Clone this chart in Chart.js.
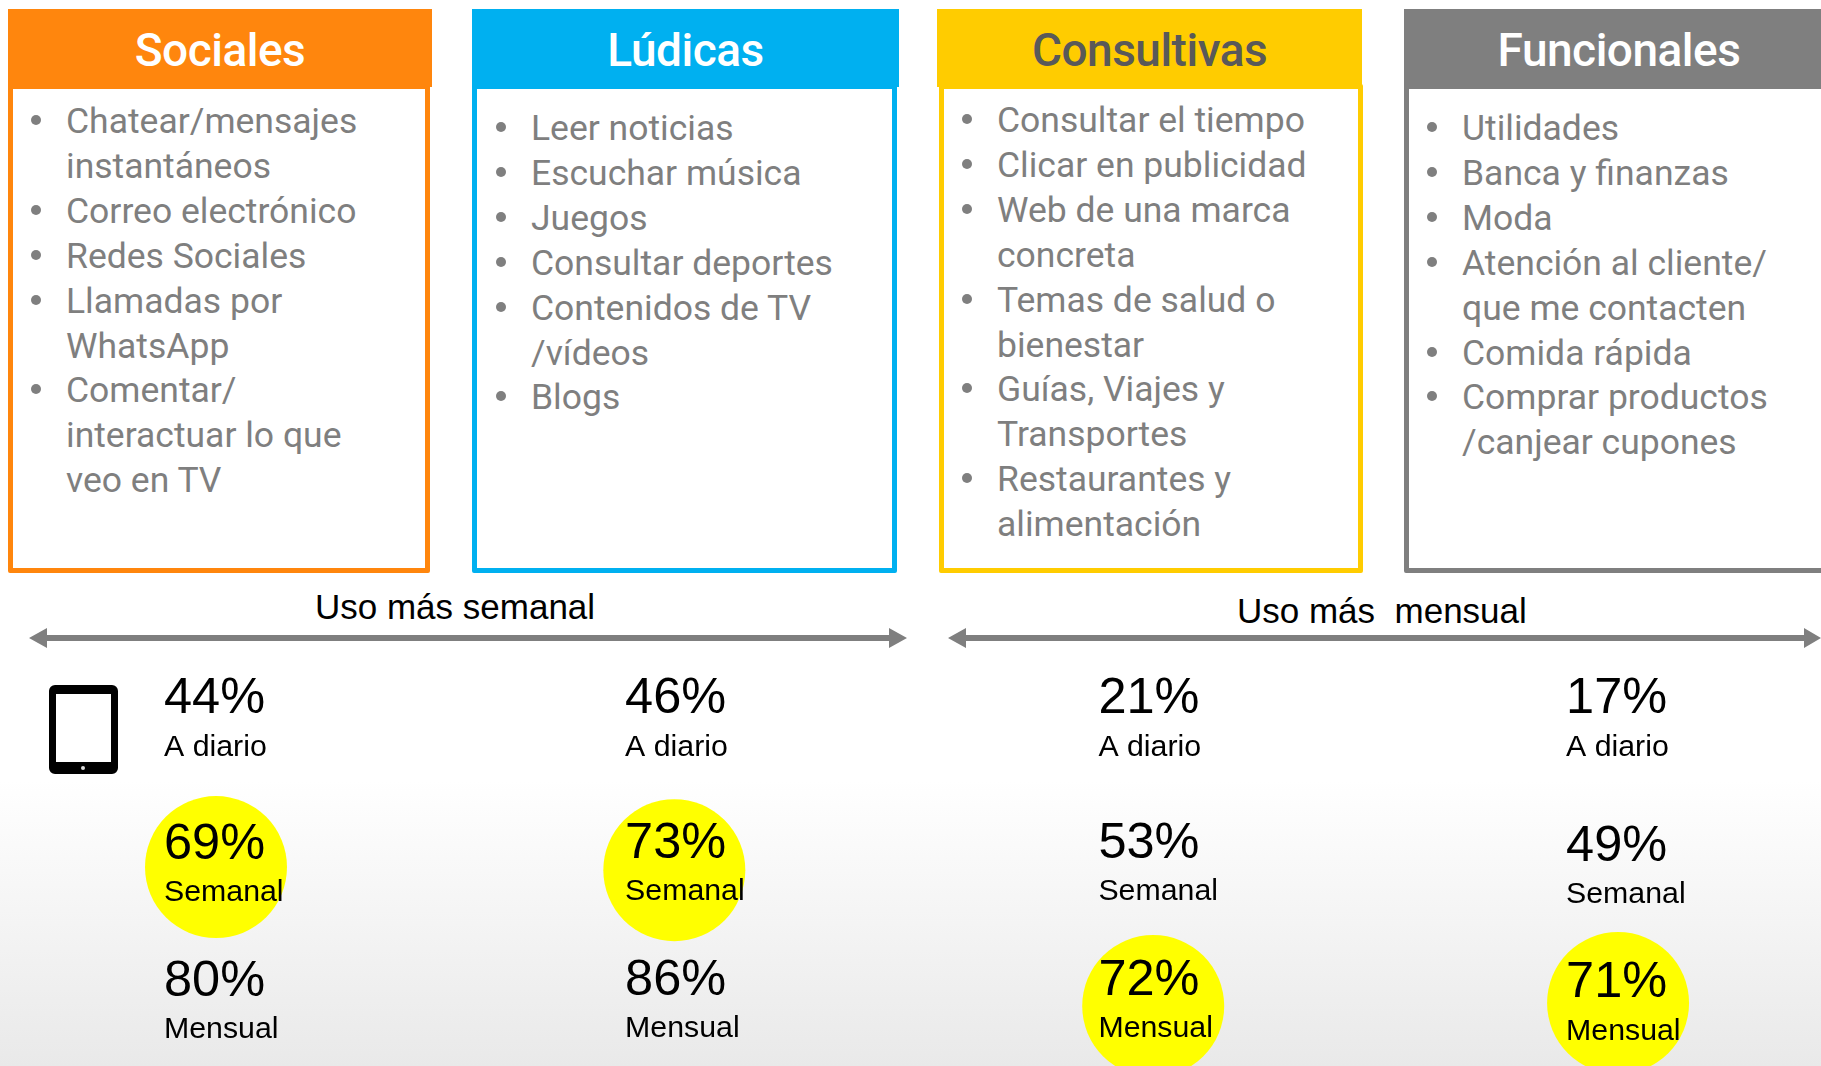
<!DOCTYPE html>
<html lang="es">
<head>
<meta charset="utf-8">
<title>Usos de la tablet</title>
<script src="https://cdn.jsdelivr.net/npm/chart.js@4"></script>
<style>
  html, body { margin: 0; width: 1821px; height: 1066px; overflow: hidden; }
  body {
    position: relative;
    background: linear-gradient(#fff 0, #fff 780px, #e9e9e9 1066px);
    font-family: "Liberation Sans", Arial, sans-serif;
  }
  .head {
    position: absolute; height: 78px; text-align: center;
    font: 500 46px/83px Roboto, sans-serif; letter-spacing: -0.5px;
  }
  .box {
    position: absolute; top: 84px; height: 479px; background: #fff;
    border: 5px solid; border-radius: 2px;
  }
  .box ul { margin: 0; padding: 0; list-style: none; }
  .box li {
    position: relative; white-space: pre-line;
    font: 400 35.5px/44.9px Roboto, sans-serif; color: #7f7f7f;
  }
  .box li::before {
    content: ""; position: absolute; left: -35px; top: 16px;
    width: 10px; height: 10px; border-radius: 50%; background: #7f7f7f;
  }
  .usage { position: absolute; font-size: 35px; line-height: 40px; color: #000; white-space: pre; }
  .arrow { position: absolute; top: 628px; height: 20px; }
  #tablet {
    position: absolute; left: 49px; top: 685px; width: 55px; height: 68px;
    border: 7px solid #000; border-bottom-width: 12px; border-top-width: 9px;
    border-radius: 6px; background: #fff;
  }
  #tablet::after {
    content: ""; position: absolute; left: 25px; bottom: -8px;
    width: 4px; height: 4px; border-radius: 50%; background: #ddd;
  }
  #usoChart { position: absolute; left: 0; top: 650px; }
</style>
</head>
<body>
<div id="cards"></div>
<div class="usage" style="left:315px;top:587px">Uso más semanal</div>
<div class="usage" style="left:1237px;top:591px">Uso más  mensual</div>
<svg class="arrow" style="left:29px" width="878" height="20"><path d="M0 10L18 0V7H860V0L878 10L860 20V13H18V20Z" fill="#7f7f7f"/></svg>
<svg class="arrow" style="left:948px" width="880" height="20"><path d="M0 10L18 0V7H856V0L873 10L856 20V13H18V20Z" fill="#7f7f7f"/></svg>
<div id="tablet"></div>
<canvas id="usoChart" width="1821" height="416"></canvas>

<script>
const categories = ['Sociales', 'Lúdicas', 'Consultivas', 'Funcionales'];
const frequencies = ['A diario', 'Semanal', 'Mensual'];

const aDiario = [44, 46, 21, 17];
const semanal = [69, 73, 53, 49];
const mensual = [80, 86, 72, 71];
// which frequency gets the yellow circle in each column
const highlighted = ['Semanal', 'Semanal', 'Mensual', 'Mensual'];

const itemsSociales = ['Chatear/mensajes\ninstantáneos', 'Correo electrónico', 'Redes Sociales', 'Llamadas por\nWhatsApp', 'Comentar/\ninteractuar lo que\nveo en TV'];
const itemsLudicas = ['Leer noticias', 'Escuchar música', 'Juegos', 'Consultar deportes', 'Contenidos de TV\n/vídeos', 'Blogs'];
const itemsConsultivas = ['Consultar el tiempo', 'Clicar en publicidad', 'Web de una marca\nconcreta', 'Temas de salud o\nbienestar', 'Guías, Viajes y\nTransportes', 'Restaurantes y\nalimentación'];
const itemsFuncionales = ['Utilidades', 'Banca y finanzas', 'Moda', 'Atención al cliente/\nque me contacten', 'Comida rápida', 'Comprar productos\n/canjear cupones'];

// card layout, kept apart from the data
const cardStyle = [
  { color: '#ff860d', text: '#fff', headX: 8, headW: 424, boxX: 8, boxW: 412, textX: 66, textY: 99, items: itemsSociales },
  { color: '#00b0f0', text: '#fff', headX: 472, headW: 427, boxX: 472, boxW: 415, textX: 531, textY: 106, items: itemsLudicas },
  { color: '#ffcc00', text: '#595959', headX: 937, headW: 425, boxX: 939, boxW: 414, textX: 997, textY: 98, items: itemsConsultivas },
  { color: '#7f7f7f', text: '#fff', headX: 1404, headW: 430, boxX: 1404, boxW: 430, textX: 1462, textY: 106, items: itemsFuncionales }
];

const cards = document.getElementById('cards');
categories.forEach((name, i) => {
  const s = cardStyle[i];
  const box = document.createElement('div');
  box.className = 'box';
  box.style.cssText = `left:${s.boxX}px;width:${s.boxW}px;border-color:${s.color}`;
  const ul = document.createElement('ul');
  ul.style.cssText = `position:absolute;left:${s.textX - s.boxX - 5}px;top:${s.textY - 89}px`;
  s.items.forEach(t => {
    const li = document.createElement('li');
    li.textContent = t;
    ul.appendChild(li);
  });
  box.appendChild(ul);
  cards.appendChild(box);

  const head = document.createElement('div');
  head.className = 'head';
  head.style.cssText = `left:${s.headX}px;width:${Math.min(s.headW, 1821 - s.headX + 14)}px;top:9px;background:${s.color};color:${s.text}`;
  head.textContent = name;
  cards.appendChild(head);
});

// column and row placement on the hidden axes (0..3 and 0..2)
const columnAt = [0, 0.986, 1.998, 2.998];
const rowAt = [
  [0.01, 1.032, 1.994],
  [0.01, 1.024, 1.984],
  [0.01, 1.024, 1.984],
  [0.01, 1.044, 2.004]
];
const circleColumnAt = [0, 0.98, 2.004, 2.998];
const circleRowAt = [1.018, 1.04, 1.993, 1.972];

const seriesByFrequency = [aDiario, semanal, mensual];

const cellPoints = [];
categories.forEach((c, col) => {
  frequencies.forEach((f, row) => {
    cellPoints.push({ x: columnAt[col], y: rowAt[col][row], pct: seriesByFrequency[row][col], label: f });
  });
});

const circlePoints = categories.map((c, col) => ({
  x: circleColumnAt[col],
  y: circleRowAt[col],
  frequency: highlighted[col]
}));

// prints the percentage and its frequency next to each point
const cellText = {
  id: 'cellText',
  afterDatasetsDraw(chart) {
    const ctx = chart.ctx;
    const pts = chart.getDatasetMeta(1).data;
    ctx.save();
    ctx.fillStyle = '#000';
    ctx.textAlign = 'left';
    ctx.textBaseline = 'middle';
    pts.forEach((p, i) => {
      const d = cellPoints[i];
      ctx.font = '50.5px "Liberation Sans"';
      ctx.fillText(d.pct + '%', p.x - 52, p.y - 24);
      ctx.font = '30.3px "Liberation Sans"';
      ctx.fillText(d.label, p.x - 52, p.y + 24);
    });
    ctx.restore();
  }
};

new Chart(document.getElementById('usoChart').getContext('2d'), {
  type: 'scatter',
  data: {
    datasets: [
      { label: 'Frecuencia destacada', data: circlePoints, pointRadius: 71, pointHoverRadius: 71, pointBackgroundColor: '#ffff00', pointBorderWidth: 0, clip: false },
      { label: 'Uso', data: cellPoints, pointRadius: 0, clip: false }
    ]
  },
  options: {
    responsive: false,
    animation: false,
    // the big circles would otherwise push the plot area in
    layout: { autoPadding: false, padding: { left: 216, right: 202, top: 72, bottom: 59 } },
    scales: {
      x: { type: 'linear', min: 0, max: 3, display: false },
      y: { type: 'linear', min: 0, max: 2, reverse: true, display: false }
    },
    plugins: {
      legend: { display: false },
      tooltip: { enabled: false }
    }
  },
  plugins: [cellText]
});
</script>
</body>
</html>
